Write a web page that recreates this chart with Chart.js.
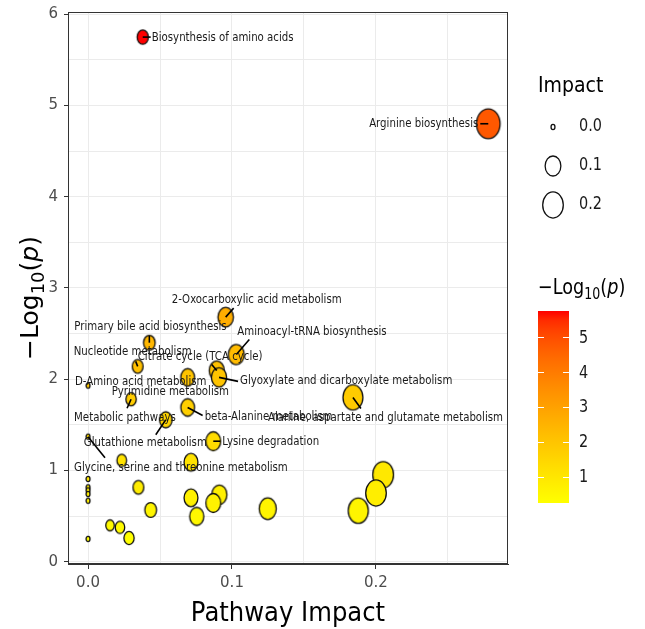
<!DOCTYPE html>
<html>
<head>
<meta charset="utf-8">
<script src="https://cdn.jsdelivr.net/npm/chart.js@4.4.1/dist/chart.umd.min.js"></script>
<style>
  html, body { margin: 0; padding: 0; background: #fff; }
  #wrap { width: 645px; height: 629px; }
</style>
</head>
<body>
<div id="wrap"><canvas id="myChart"></canvas></div>
<script>
// pathway impact (x) and -log10(p) (y)
const impact = [0.038, 0.278, 0.0956, 0.103, 0.0426, 0.0345, 0.0894, 0.0910, 0.0692, 0,
                0.0299, 0.0692, 0.054, 0.184, 0.087, 0, 0.0234, 0.0715, 0, 0,
                0, 0, 0, 0, 0.035, 0.0435, 0.0153, 0.0222, 0.0285, 0.0715,
                0.0912, 0.087, 0.0755, 0.1248, 0.205, 0.200, 0.1877];
const logP = [5.75, 4.80, 2.68, 2.27, 2.40, 2.14, 2.095, 2.02, 2.02, 1.93,
              1.78, 1.69, 1.555, 1.80, 1.32, 1.37, 1.11, 1.09, 0.906, 0.814,
              0.781, 0.741, 0.668, 0.249, 0.814, 0.566, 0.398, 0.376, 0.259, 0.70,
              0.734, 0.643, 0.496, 0.58, 0.953, 0.752, 0.559];
const pathways = ["Biosynthesis of amino acids", "Arginine biosynthesis", "2-Oxocarboxylic acid metabolism",
                  "Aminoacyl-tRNA biosynthesis", "Primary bile acid biosynthesis", "Nucleotide metabolism",
                  "Citrate cycle (TCA cycle)", "Glyoxylate and dicarboxylate metabolism", "Pyrimidine metabolism",
                  "D-Amino acid metabolism", "Metabolic pathways", "beta-Alanine metabolism",
                  "Glutathione metabolism", "Alanine, aspartate and glutamate metabolism", "Lysine degradation",
                  "Glycine, serine and threonine metabolism"];

const xTickValues = [0, 0.1, 0.2];
const yTickValues = [0, 1, 2, 3, 4, 5, 6];
const sizeBreaks = [0.0, 0.1, 0.2];
const colorBreaks = [1, 2, 3, 4, 5];

// where each repelled label sits relative to its point (pixels)
// [point, dx, dy, align, segment end dx, segment end dy]
const labelPlacement = [
  [0, 9, 1, 'left', 8, 0],
  [1, -10, 0, 'right', -8, 0],
  [2, 31, -17, 'center', 8, -9],
  [3, 1, -23, 'left', 13, -15],
  [4, -75, -16, 'left', 0, -7],
  [5, -64, -15, 'left', -2, -5],
  [6, -79, -14, 'left', -5, -6],
  [7, 21, 4, 'left', 19, 4],
  [8, -76, 15, 'left', 0, 0],
  [9, -13, -4, 'left', 0, 0],
  [10, -57, 19, 'left', -4, 9],
  [11, 17, 9, 'left', 15, 8],
  [12, -82, 23, 'left', -10, 15],
  [13, -85, 20, 'left', 8, 11],
  [14, 9, 1, 'left', 7, 0],
  [15, -14, 31, 'left', 17, 21]
];

const FONT = "'DejaVu Sans'";
const SQUEEZE = 0.85;

const pMin = Math.min(...logP), pMax = Math.max(...logP);
const iMax = Math.max(...impact);

// yellow -> red in Lab, like scale_colour_gradient
function lab2rgb(L, a, b) {
  let y = (L + 16) / 116, x = a / 500 + y, z = y - b / 200;
  const f = t => t * t * t > 0.008856 ? t * t * t : (t - 16 / 116) / 7.787;
  x = 0.95047 * f(x); y = f(y); z = 1.08883 * f(z);
  const r = x * 3.2406 - y * 1.5372 - z * 0.4986;
  const g = -x * 0.9689 + y * 1.8758 + z * 0.0415;
  const bl = x * 0.0557 - y * 0.2040 + z * 1.0570;
  const gam = c => c > 0.0031308 ? 1.055 * Math.pow(c, 1 / 2.4) - 0.055 : 12.92 * c;
  return [r, g, bl].map(c => Math.round(255 * Math.min(1, Math.max(0, gam(c)))));
}
function colorFor(v) {
  const t = (v - pMin) / (pMax - pMin);
  const lo = [97.14, -21.55, 94.48], hi = [53.24, 80.09, 67.20];
  const c = lab2rgb(lo[0] + t * (hi[0] - lo[0]), lo[1] + t * (hi[1] - lo[1]), lo[2] + t * (hi[2] - lo[2]));
  return 'rgb(' + c.join(',') + ')';
}
function sizeFor(v) {
  return 3.2 + 12.3 * Math.sqrt(v / iMax);
}

// points in the picture are slightly oval, so draw them as little sprites
function ovalSprite(ry, fill) {
  const rx = ry * 0.8;
  const c = document.createElement('canvas');
  c.width = 2 * Math.ceil(rx) + 2;
  c.height = 2 * Math.ceil(ry) + 2;
  const g = c.getContext('2d');
  g.beginPath();
  g.ellipse(c.width / 2, c.height / 2, rx - 0.6, ry - 0.6, 0, 0, Math.PI * 2);
  g.fillStyle = fill;
  g.fill();
  g.lineWidth = 1.3;
  g.strokeStyle = '#111';
  g.stroke();
  return c;
}
const sprites = impact.map((v, i) => ovalSprite(sizeFor(v), colorFor(logP[i])));

function squeezedText(ctx, txt, x, y, size, align, color, sx, baseline) {
  ctx.save();
  ctx.font = size + 'px ' + FONT;
  ctx.fillStyle = color;
  ctx.textAlign = 'left';
  ctx.textBaseline = baseline || 'middle';
  const w = ctx.measureText(txt).width * sx;
  const left = align === 'left' ? x : align === 'right' ? x - w : x - w / 2;
  ctx.translate(left, y);
  ctx.scale(sx, 1);
  ctx.fillText(txt, 0, 0);
  ctx.restore();
}

// -Log10(p) with subscript and italic p
function logTitle(ctx, size) {
  const parts = [
    ['\u2212Log', size + 'px ' + FONT, 0],
    ['10', Math.round(size * 0.7) + 'px ' + FONT, size * 0.22],
    ['(', size + 'px ' + FONT, 0],
    ['p', 'italic ' + size + 'px ' + FONT, 0],
    [')', size + 'px ' + FONT, 0]
  ];
  let w = 0;
  parts.forEach(p => { ctx.font = p[1]; w += ctx.measureText(p[0]).width; });
  return {
    width: w,
    draw(x, y) {
      let cx = x;
      ctx.textBaseline = 'alphabetic';
      ctx.textAlign = 'left';
      parts.forEach(p => {
        ctx.font = p[1];
        ctx.fillText(p[0], cx, y + p[2]);
        cx += ctx.measureText(p[0]).width;
      });
    }
  };
}

const decorations = {
  id: 'decorations',
  afterDatasetsDraw(chart) {
    const ctx = chart.ctx;
    const xs = chart.scales.x, ys = chart.scales.y;
    ctx.save();
    ctx.strokeStyle = '#000';
    ctx.lineWidth = 1.6;
    labelPlacement.forEach(l => {
      const px = xs.getPixelForValue(impact[l[0]]);
      const py = ys.getPixelForValue(logP[l[0]]);
      if (l[4] || l[5]) {
        ctx.beginPath();
        ctx.moveTo(px, py);
        ctx.lineTo(px + l[4], py + l[5]);
        ctx.stroke();
      }
      squeezedText(ctx, pathways[l[0]], px + l[1], py + l[2], 12, l[3], '#1a1a1a', SQUEEZE);
    });
    ctx.restore();
  },
  afterDraw(chart) {
    const ctx = chart.ctx;
    const a = chart.chartArea;
    ctx.save();
    // panel border
    ctx.strokeStyle = '#333';
    ctx.lineWidth = 1;
    ctx.strokeRect(a.left + 0.5, a.top + 0.5, a.right - a.left - 1, a.bottom - a.top - 1);

    // axis titles
    squeezedText(ctx, 'Pathway Impact', (a.left + a.right) / 2, 621, 27, 'center', '#000', 0.9, 'alphabetic');
    ctx.save();
    ctx.translate(38, 298);
    ctx.rotate(-Math.PI / 2);
    ctx.fillStyle = '#000';
    const yt = logTitle(ctx, 25);
    yt.draw(-yt.width / 2, 0);
    ctx.restore();

    // size legend
    const lx = 538;
    squeezedText(ctx, 'Impact', lx, 92, 22, 'left', '#000', 0.86, 'alphabetic');
    const rowY = [127, 166, 205];
    sizeBreaks.forEach((v, i) => {
      const ry = sizeFor(v);
      ctx.beginPath();
      ctx.ellipse(553, rowY[i], ry * 0.8 - 0.6, ry - 0.6, 0, 0, Math.PI * 2);
      ctx.fillStyle = '#fff';
      ctx.fill();
      ctx.lineWidth = 1.3;
      ctx.strokeStyle = '#111';
      ctx.stroke();
      squeezedText(ctx, v.toFixed(1), 579, rowY[i], 17, 'left', '#1a1a1a', 0.85);
    });

    // colour bar
    ctx.save();
    ctx.translate(lx, 294);
    ctx.scale(0.84, 1);
    ctx.fillStyle = '#000';
    logTitle(ctx, 21).draw(0, 0);
    ctx.restore();
    const barTop = 311, barBottom = 503, barL = 538, barW = 31;
    const grad = ctx.createLinearGradient(0, barTop, 0, barBottom);
    for (let k = 0; k <= 20; k++) {
      grad.addColorStop(k / 20, colorFor(pMax - (pMax - pMin) * k / 20));
    }
    ctx.fillStyle = grad;
    ctx.fillRect(barL, barTop, barW, barBottom - barTop);
    const vy = v => barBottom - (v - pMin) / (pMax - pMin) * (barBottom - barTop);
    ctx.strokeStyle = '#fff';
    ctx.lineWidth = 1;
    colorBreaks.forEach(v => {
      const y = Math.round(vy(v)) + 0.5;
      ctx.beginPath();
      ctx.moveTo(barL, y); ctx.lineTo(barL + 6, y);
      ctx.moveTo(barL + barW - 6, y); ctx.lineTo(barL + barW, y);
      ctx.stroke();
      squeezedText(ctx, String(v), 579, vy(v) + 1, 17, 'left', '#1a1a1a', 0.85);
    });
    ctx.restore();
  }
};

const isMajor = (v, list) => list.some(m => Math.abs(m - v) < 1e-6);

new Chart(document.getElementById('myChart'), {
  type: 'scatter',
  data: {
    datasets: [{
      data: impact.map((v, i) => ({ x: v, y: logP[i] })),
      pointStyle: c => sprites[c.dataIndex],
      pointRadius: 1,
      pointHoverRadius: 1,
      pointBorderWidth: 0
    }]
  },
  options: {
    responsive: true,
    maintainAspectRatio: false,
    animation: false,
    events: [],
    layout: { padding: { left: 46, right: 137, top: 12, bottom: 0 } },
    plugins: { legend: { display: false }, tooltip: { enabled: false } },
    scales: {
      x: {
        type: 'linear',
        min: -0.0139,
        max: 0.2917,
        afterFit: s => { s.height = 65; s.paddingLeft = 0; s.paddingRight = 0; },
        border: { display: true, color: '#333', width: 1 },
        grid: {
          color: '#ebebeb',
          lineWidth: 1,
          tickLength: 5,
          tickColor: c => isMajor(c.tick.value, xTickValues) ? '#333' : 'rgba(0,0,0,0)'
        },
        ticks: {
          stepSize: 0.05,
          includeBounds: false,
          autoSkip: false,
          maxRotation: 0,
          padding: 5,
          color: '#4d4d4d',
          font: { family: FONT, size: 15 },
          callback: v => isMajor(v, xTickValues) ? v.toFixed(1) : ''
        }
      },
      y: {
        type: 'linear',
        min: -0.026,
        max: 6.025,
        afterFit: s => { s.width = 22; s.paddingTop = 0; s.paddingBottom = 0; },
        border: { display: true, color: '#333', width: 1 },
        grid: {
          color: '#ebebeb',
          lineWidth: 1,
          tickLength: 4,
          tickColor: c => isMajor(c.tick.value, yTickValues) ? '#333' : 'rgba(0,0,0,0)'
        },
        ticks: {
          stepSize: 0.5,
          includeBounds: false,
          autoSkip: false,
          padding: 6,
          color: '#4d4d4d',
          font: { family: FONT, size: 15 },
          callback: v => isMajor(v, yTickValues) ? String(v) : ''
        }
      }
    }
  },
  plugins: [decorations]
});
</script>
</body>
</html>
